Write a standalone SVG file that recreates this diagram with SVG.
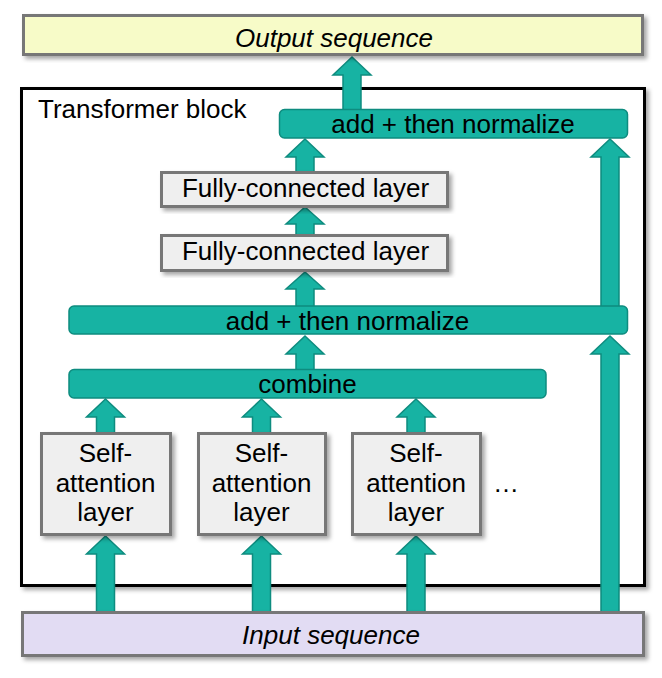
<svg xmlns="http://www.w3.org/2000/svg" width="662" height="678" viewBox="0 0 662 678">
<defs>
<filter id="sh" x="-10%" y="-10%" width="120%" height="130%">
<feDropShadow dx="3" dy="3" stdDeviation="2" flood-color="#000" flood-opacity="0.35"/>
</filter>
<style>
text{font-family:"Liberation Sans",Arial,sans-serif;font-size:26px;fill:#000}
.c{text-anchor:middle}
.it{font-style:italic}
.grey{fill:#efefef;stroke:#777;stroke-width:3;filter:url(#sh)}
.teal{fill:#17b3a3;stroke:#0e8c7f;stroke-width:1.5}
.arr{fill:#17b3a3;stroke:#0e8c7f;stroke-width:1.5;stroke-linejoin:miter}
</style>
</defs>
<rect width="662" height="678" fill="#fff"/>

<g id="transformer-block">
<rect x="21.5" y="88.5" width="623" height="497" fill="#fff" stroke="#000" stroke-width="3" filter="url(#sh)"/>
<text x="38" y="118">Transformer block</text>
</g>

<g id="connectors">
<path class="arr" d="M352 57 L371 75 L361 75 L361 112 L343 112 L343 75 L333 75 Z"/>
<path class="arr" d="M305 139 L324 157 L314 157 L314 173 L296 173 L296 157 L286 157 Z"/>
<path class="arr" d="M305 207 L324 224 L314 224 L314 236 L296 236 L296 224 L286 224 Z"/>
<path class="arr" d="M305 272 L324 289 L314 289 L314 308 L296 308 L296 289 L286 289 Z"/>
<path class="arr" d="M305 336 L324 354 L314 354 L314 371 L296 371 L296 354 L286 354 Z"/>
<path class="arr" d="M105.5 399 L124.5 417 L114.5 417 L114.5 434 L96.5 434 L96.5 417 L86.5 417 Z"/>
<path class="arr" d="M261.5 399 L280.5 417 L270.5 417 L270.5 434 L252.5 434 L252.5 417 L242.5 417 Z"/>
<path class="arr" d="M416 399 L435 417 L425 417 L425 434 L407 434 L407 417 L397 417 Z"/>
<path class="arr" d="M105.5 536 L124.5 554 L114.5 554 L114.5 614 L96.5 614 L96.5 554 L86.5 554 Z"/>
<path class="arr" d="M261.5 536 L280.5 554 L270.5 554 L270.5 614 L252.5 614 L252.5 554 L242.5 554 Z"/>
<path class="arr" d="M416 536 L435 554 L425 554 L425 614 L407 614 L407 554 L397 554 Z"/>
<path class="arr" d="M610 336 L629 354 L619 354 L619 614 L601 614 L601 354 L591 354 Z"/>
<path class="arr" d="M610 139 L629 157 L619 157 L619 308 L601 308 L601 157 L591 157 Z"/>
</g>

<g id="output-sequence">
<rect x="23.5" y="15.5" width="619" height="39" fill="#f7fbc8" stroke="#777" stroke-width="3" filter="url(#sh)"/>
<text class="c it" x="334" y="47">Output sequence</text>
</g>

<g id="add-normalize-top">
<rect class="teal" x="279.5" y="109.5" width="348" height="28.5" rx="5"/>
<text class="c" x="453" y="133">add + then normalize</text>
</g>

<g id="fc-layer-1">
<rect class="grey" x="161.5" y="172.5" width="286" height="34"/>
<text class="c" x="305.5" y="197">Fully-connected layer</text>
</g>

<g id="fc-layer-2">
<rect class="grey" x="161.5" y="235.5" width="286" height="35"/>
<text class="c" x="305.5" y="260">Fully-connected layer</text>
</g>

<g id="add-normalize-mid">
<rect class="teal" x="69" y="306" width="558.5" height="28" rx="5"/>
<text class="c" x="347.5" y="330">add + then normalize</text>
</g>

<g id="combine">
<rect class="teal" x="69" y="369.5" width="477" height="28.5" rx="5"/>
<text class="c" x="307.5" y="393">combine</text>
</g>

<g id="self-attention-1">
<rect class="grey" x="41.5" y="433.5" width="129" height="101"/>
<text class="c" x="105.5" y="462">Self-</text>
<text class="c" x="105.5" y="492">attention</text>
<text class="c" x="105.5" y="521">layer</text>
</g>

<g id="self-attention-2">
<rect class="grey" x="198.5" y="433.5" width="127" height="101"/>
<text class="c" x="261.5" y="462">Self-</text>
<text class="c" x="261.5" y="492">attention</text>
<text class="c" x="261.5" y="521">layer</text>
</g>

<g id="self-attention-3">
<rect class="grey" x="352.5" y="433.5" width="128" height="101"/>
<text class="c" x="416" y="462">Self-</text>
<text class="c" x="416" y="492">attention</text>
<text class="c" x="416" y="521">layer</text>
</g>

<g id="ellipsis">
<text class="c" x="506" y="492">…</text>
</g>

<g id="input-sequence">
<rect x="22.5" y="612.5" width="621" height="43" fill="#e2dcf3" stroke="#777" stroke-width="3" filter="url(#sh)"/>
<text class="c it" x="331" y="644">Input sequence</text>
</g>
</svg>
